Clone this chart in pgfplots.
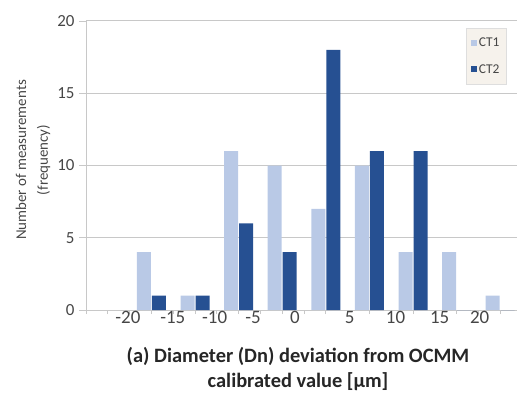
\documentclass[border=0pt]{standalone}
\usepackage{fontspec}
\setmainfont{Carlito}
\usepackage{pgfplots}
\pgfplotsset{compat=1.18}
\definecolor{ctone}{RGB}{185,201,230}
\definecolor{cttwo}{RGB}{38,80,146}
\definecolor{gridc}{RGB}{200,200,200}
\definecolor{legbg}{RGB}{246,242,236}
\definecolor{txt}{RGB}{70,70,70}
\begin{document}
\begin{tikzpicture}[x=1bp,y=1bp]
\path[use as bounding box] (0,0) rectangle (517,394);
\begin{axis}[
  at={(86bp,84bp)}, anchor=south west,
  scale only axis, width=436bp, height=289bp,
  xmin=-0.5, xmax=9.5, ymin=0, ymax=20,
  axis x line*=bottom, axis y line*=left,
  axis line style={draw=gridc, line width=1bp, -},
  ybar=1bp, bar width=14bp,
  ymajorgrids, grid style={draw=gridc, line width=1bp},
  ytick={0,5,10,15,20},
  tick align=outside,
  major tick length=7bp, minor tick length=4bp,
  tick style={draw=gridc, line width=0.8bp},
  yticklabel style={font=\fontsize{17}{17}\selectfont, text=txt, xshift=-1bp},
  /pgf/number format/assume math mode=true,
  xtick={0.46,1.49,2.45,3.33,4.29,5.55,6.6,7.61,8.53},
  xticklabels={-20,-15,-10,-5,0,5,10,15,20},
  x tick style={draw=none},
  minor xtick={-0.5,0,0.5,1,1.5,2,2.5,3,3.5,4,4.5,5,5.5,6,6.5,7,7.5,8,8.5,9,9.5},
  minor x tick style={draw=gridc, line width=0.8bp},
  xticklabel style={font=\fontsize{19}{19}\selectfont, text=txt, yshift=9bp},
  legend image code/.code={\path[#1,draw=none] (0bp,-3bp) rectangle (6bp,3bp);},
  legend style={at={(axis description cs:0.871,0.976)}, anchor=north west,
    fill=legbg, draw=gridc!60, font=\fontsize{13.5}{13.5}\selectfont,
    text=txt, row sep=12bp, inner xsep=5bp, inner ysep=8bp},
]
\addplot[fill=ctone, draw=none] coordinates {(1,4)(2,1)(3,11)(4,10)(5,7)(6,10)(7,4)(8,4)(9,1)};
\addplot[fill=cttwo, draw=none] coordinates {(1,1)(2,1)(3,6)(4,4)(5,18)(6,11)(7,11)(8,0)(9,0)};
\legend{CT1,CT2}
\end{axis}
\node[rotate=90, align=center, text=txt, font=\fontsize{15}{22}\selectfont] at (33,234) {Number of measurements\\(frequency)};
\node[align=center, text=black!85, font=\bfseries\fontsize{20.5}{25}\selectfont] at (298,25) {(a) Diameter (Dn) deviation from OCMM\\calibrated value [µm]};
\end{tikzpicture}
\end{document}
